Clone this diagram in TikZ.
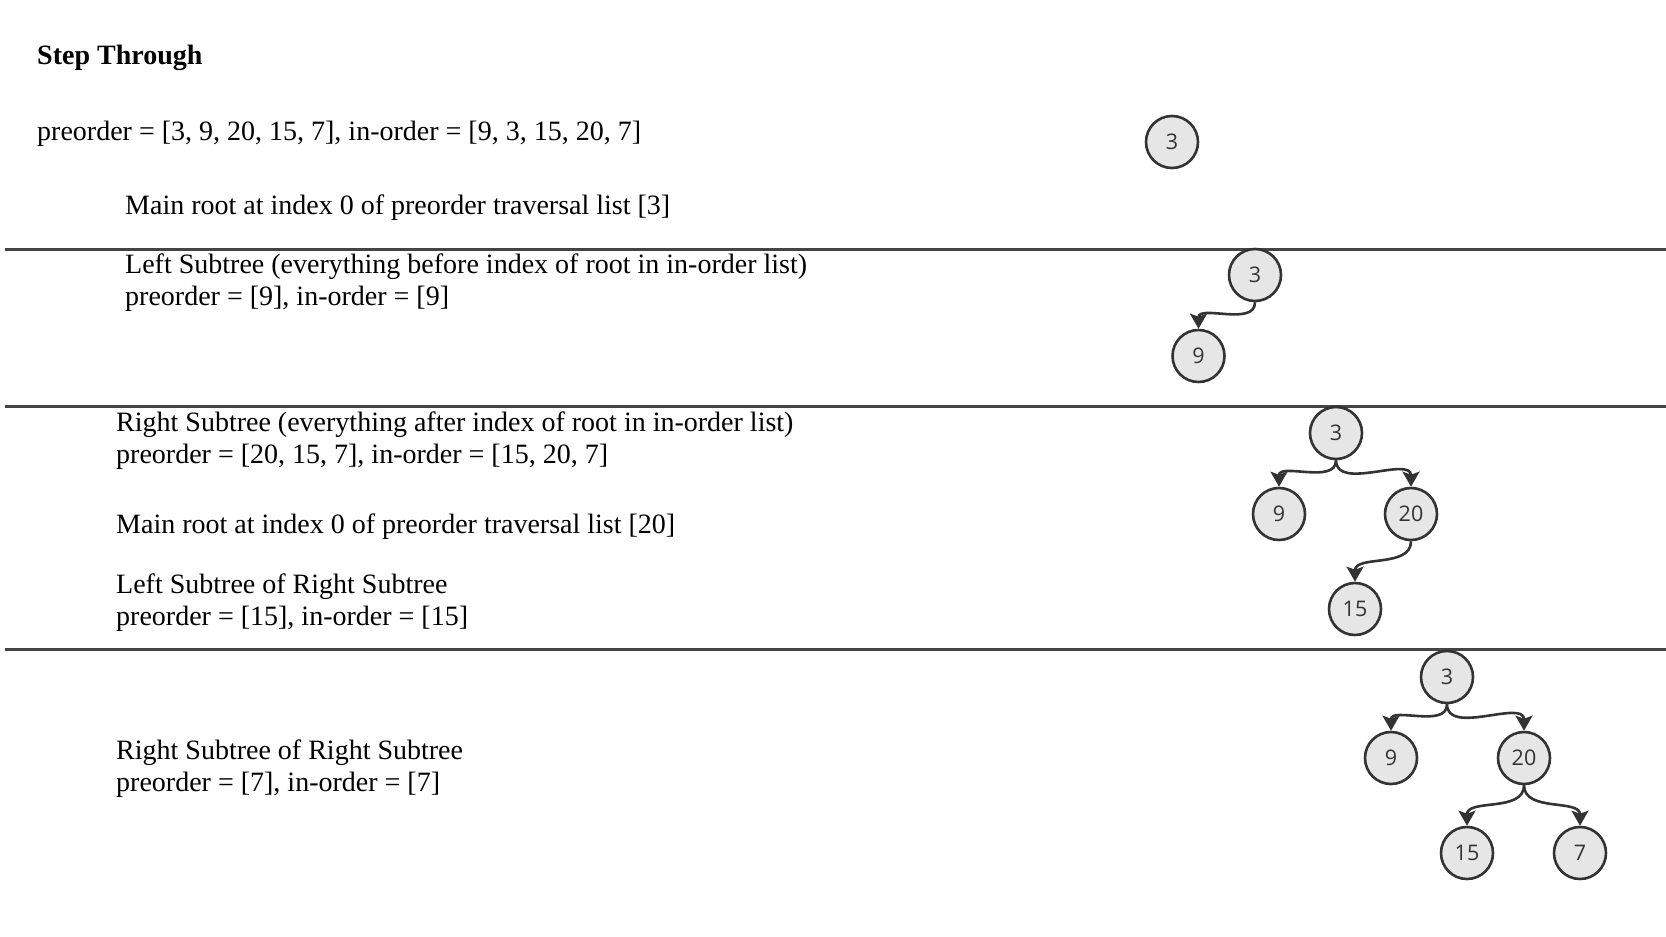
\documentclass[tikz,border=0pt]{standalone}
\usepackage{fontspec}
\setmainfont{Liberation Serif}
\newfontfamily\treefont{Open Sans}
\usepackage{tikz}
\usetikzlibrary{arrows.meta}
\definecolor{nodefill}{HTML}{E6E6E6}
\definecolor{linegray}{HTML}{333333}
\definecolor{rulegray}{HTML}{444444}

\begin{document}
\begin{tikzpicture}[x=1pt,y=-1pt,
    txt/.style={anchor=west,inner sep=0pt,font=\fontsize{28}{32}\selectfont},
    tnode/.style={circle,draw=linegray,line width=2.6pt,fill=nodefill,minimum size=52pt,inner sep=0pt,text=linegray,font=\treefont\fontsize{21.5}{24}\selectfont},
    edge/.style={line width=2.6pt,draw=linegray,-{Stealth[length=15pt,width=17pt,inset=3pt]}},
    sep/.style={line width=3pt,draw=rulegray}]
              \useasboundingbox (0,0) rectangle (1666,937);
              % separators
              \draw[sep] (5,249) -- (1666,249);
              \draw[sep] (5,406) -- (1666,406);
              \draw[sep] (5,649) -- (1666,649);
              % text
              \node[txt,font=\fontsize{28}{32}\selectfont\bfseries](title)at(37,58){Step Through};
              \node[txt](full)at(37,134){preorder = [3, 9, 20, 15, 7], in-order = [9, 3, 15, 20, 7]};
              \node[txt](root)at(125,208){Main root at index 0 of preorder traversal list [3]};
              \node[txt](lefthead)at(125,267){Left Subtree (everything before index of root in in-order list)};
              \node[txt](leftlist)at(125,299){preorder = [9], in-order = [9]};
              \node[txt](righthead)at(116,425){Right Subtree (everything after index of root in in-order list)};
              \node[txt](rightlist)at(116,457){preorder = [20, 15, 7], in-order = [15, 20, 7]};
              \node[txt](rightroot)at(116,527){Main root at index 0 of preorder traversal list [20]};
              \node[txt](rlhead)at(116,587){Left Subtree of Right Subtree};
              \node[txt](rllist)at(116,619){preorder = [15], in-order = [15]};
              \node[txt](rrhead)at(116,753){Right Subtree of Right Subtree};
              \node[txt](rrlist)at(116,785){preorder = [7], in-order = [7]};
              % step 1
              \node[tnode](a3)at(1172,142){3};
              % step 2
              \node[tnode](b3)at(1255,275){3};
              \node[tnode](b9)at(1198.5,356){9};
              \draw[edge](b3.south) to[out=-90,in=90] (b9.north);
              % step 3
              \node[tnode](c3)at(1336,433){3};
              \node[tnode](c9)at(1279,514){9};
              \node[tnode](c20)at(1411,514){20};
              \node[tnode](c15)at(1355,609){15};
              \draw[edge](c3.south) to[out=-90,in=90] (c9.north);
              \draw[edge](c3.south) to[out=-90,in=90] (c20.north);
              \draw[edge](c20.south) to[out=-90,in=90] (c15.north);
              % step 4
              \node[tnode](d3)at(1447,677){3};
              \node[tnode](d9)at(1391,758){9};
              \node[tnode](d20)at(1524,758){20};
              \node[tnode](d15)at(1467,853){15};
              \node[tnode](d7)at(1580,853){7};
              \draw[edge](d3.south) to[out=-90,in=90] (d9.north);
              \draw[edge](d3.south) to[out=-90,in=90] (d20.north);
              \draw[edge](d20.south) to[out=-90,in=90] (d15.north);
              \draw[edge](d20.south) to[out=-90,in=90] (d7.north);
            \end{tikzpicture}
\end{document}
